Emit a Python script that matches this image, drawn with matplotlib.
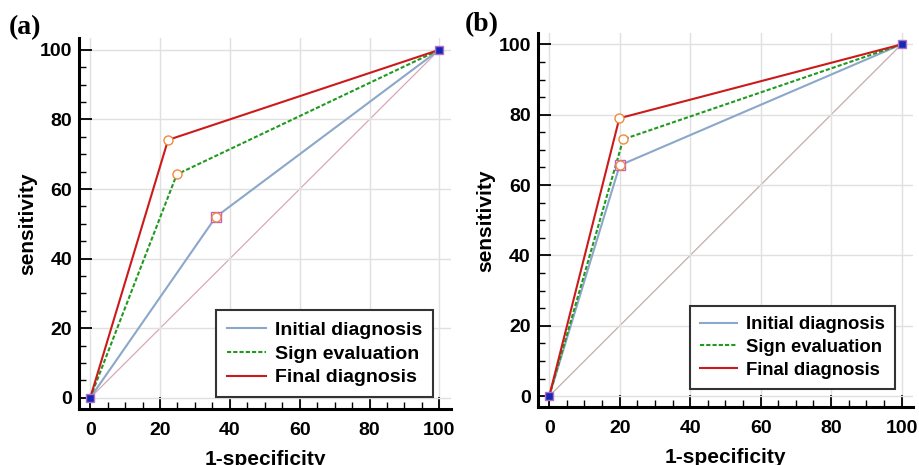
import matplotlib
matplotlib.use("Agg")
import matplotlib.pyplot as plt
from matplotlib.ticker import MultipleLocator

# ROC points (1-specificity, sensitivity), panel a
a_initial_x = [0, 36.0, 100]
a_initial_y = [0, 52.0, 100]
a_sign_x = [0, 24.8, 100]
a_sign_y = [0, 64.2, 100]
a_final_x = [0, 22.3, 100]
a_final_y = [0, 74.1, 100]

# panel b
b_initial_x = [0, 20.0, 100]
b_initial_y = [0, 65.6, 100]
b_sign_x = [0, 21.0, 100]
b_sign_y = [0, 73.0, 100]
b_final_x = [0, 19.9, 100]
b_final_y = [0, 79.0, 100]

labels = ["Initial diagnosis", "Sign evaluation", "Final diagnosis"]
colors = ["#8ba7c9", "#1f9a1f", "#cc1a1a"]
styles = ["-", (0, (2, 1)), "-"]

plt.rcParams['font.family'] = ['Liberation Sans', 'DejaVu Sans']
plt.rcParams['font.weight'] = 'bold'

fig = plt.figure(figsize=(9.19, 4.65), dpi=100)
ax_a = fig.add_axes([0.086, 0.1204, 0.405, 0.798])
ax_b = fig.add_axes([0.585, 0.124, 0.409, 0.804])


def draw(ax, xs, ys, lims, legend_anchor, legend_size, diag_color):
    ax.plot([0, 100], [0, 100], color=diag_color, lw=0.9, zorder=1)
    handles = []
    for (x, y), lab, c, ls in zip(zip(xs, ys), labels, colors, styles):
        h, = ax.plot(x, y, color=c, ls=ls, lw=1.5, label=lab, zorder=3)
        handles.append(h)
    # cut-off markers
    ax.plot(xs[0][1], ys[0][1], 's', ms=6.5, mfc='white', mec='#c060c0', mew=1.0, zorder=4)
    for x, y in zip(xs, ys):
        ax.plot(x[1], y[1], 'o', ms=6.5, mfc='white', mec='#ee8a40', mew=1.0, zorder=5)
    # end points
    ax.plot([0, 100], [0, 100], 's', ms=5.5, mfc='#1428b4', mec='#b070c8', mew=1.0, zorder=6)

    ax.set_xlim(lims[0])
    ax.set_ylim(lims[1])
    ax.xaxis.set_major_locator(MultipleLocator(20))
    ax.yaxis.set_major_locator(MultipleLocator(20))
    ax.xaxis.set_minor_locator(MultipleLocator(5))
    ax.yaxis.set_minor_locator(MultipleLocator(5))
    ax.grid(True, which='major', color='#e0e0e0', lw=1.0, zorder=0)
    for s in ['top', 'right']:
        ax.spines[s].set_visible(False)
    for s in ['left', 'bottom']:
        ax.spines[s].set_linewidth(2.2)
    ax.tick_params(which='major', direction='in', length=9, width=1.3, labelsize=14)
    ax.tick_params(which='minor', direction='in', length=5, width=1.0)
    ax.tick_params(axis='x', which='major', pad=9)
    ax.tick_params(axis='y', which='major', pad=5)
    ax.set_xlabel("1-specificity", fontsize=15, fontweight='bold', labelpad=8)
    ax.set_ylabel("sensitivity", fontsize=15, fontweight='bold', labelpad=2)
    leg = ax.legend(handles=handles, loc='lower right', bbox_to_anchor=legend_anchor,
                    fancybox=False, framealpha=1, edgecolor='#333333',
                    prop={'size': legend_size, 'weight': 'bold'},
                    handlelength=2.0, handletextpad=0.5, borderpad=0.55,
                    labelspacing=0.32, borderaxespad=0)
    leg.get_frame().set_linewidth(1.5)


draw(ax_a, [a_initial_x, a_sign_x, a_final_x], [a_initial_y, a_sign_y, a_final_y],
     ((-3.2, 103.4), (-3.2, 103.4)), (0.952, 0.032), 14, "#d8a8b4")
draw(ax_b, [b_initial_x, b_sign_x, b_final_x], [b_initial_y, b_sign_y, b_final_y],
     ((-3.3, 103.4), (-3.2, 103.1)), (0.952, 0.049), 13.3, "#c8aaaa")

fig.text(0.010, 0.94, "(a)", fontsize=20, fontweight='bold', family='Liberation Serif', va='center')
fig.text(0.506, 0.947, "(b)", fontsize=20, fontweight='bold', family='Liberation Serif', va='center')

fig.savefig("out.png", dpi=100)
